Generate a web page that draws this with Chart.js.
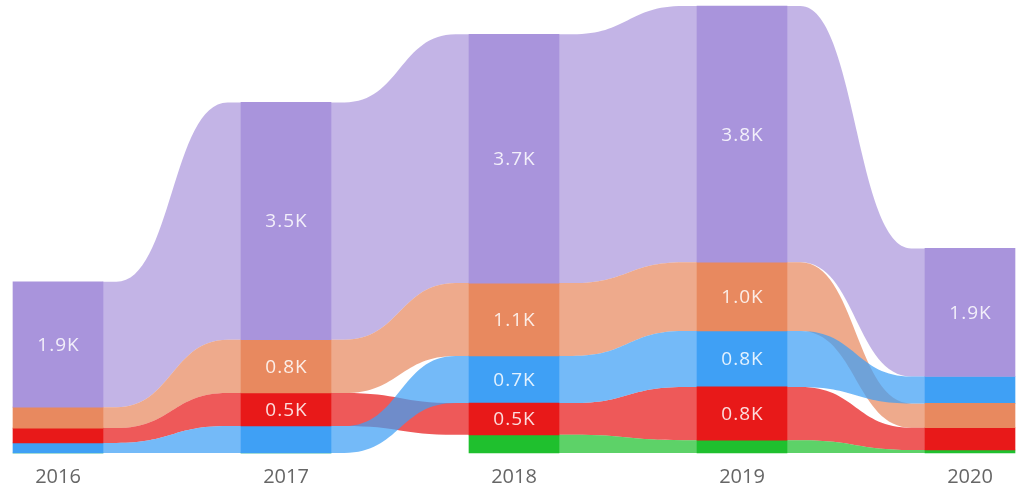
<!DOCTYPE html>
<html>
<head>
<meta charset="utf-8">
<script src="https://cdn.jsdelivr.net/npm/chart.js@4.4.1/dist/chart.umd.min.js"></script>
<style>
  html, body { margin: 0; padding: 0; background: #fff; }
  #wrap { width: 1018px; height: 494px; }
</style>
</head>
<body>
<div id="wrap"><canvas id="ribbon"></canvas></div>
<script>
  // Data
  const years = ["2016", "2017", "2018", "2019", "2020"];
  const purpleValues = [1860, 3520, 3690, 3800, 1900];
  const orangeValues = [310, 790, 1080, 1020, 360];
  const redValues = [220, 490, 470, 790, 330];
  const blueValues = [150, 400, 700, 830, 400];
  const greenValues = [0, 0, 270, 190, 45];

  const series = [
    { name: "Purple", values: purpleValues, bar: "#A994DC", ribbon: "rgba(169,148,220,0.70)" },
    { name: "Orange", values: orangeValues, bar: "#E8895F", ribbon: "rgba(232,137,95,0.72)" },
    { name: "Red", values: redValues, bar: "#E81919", ribbon: "rgba(232,25,25,0.72)" },
    { name: "Blue", values: blueValues, bar: "#3FA0F5", ribbon: "rgba(63,160,245,0.72)" },
    { name: "Green", values: greenValues, bar: "#1FC02E", ribbon: "rgba(31,192,46,0.72)" },
  ];

  // ribbon chart: each year is stacked by rank, largest on top
  series.forEach((s) => (s.ranges = []));
  years.forEach((_, i) => {
    const order = series.slice().sort((a, b) => a.values[i] - b.values[i]);
    let base = 0;
    order.forEach((s) => {
      s.ranges[i] = [base, base + s.values[i]];
      base += s.values[i];
    });
  });
  const totals = years.map((_, i) => series.reduce((sum, s) => sum + s.values[i], 0));

  // flat bit at both ends of a ribbon, then an S curve in the middle
  function edge(ctx, xa, ya, xb, yb) {
    const gap = xb - xa;
    const f = gap * 0.1;
    const p = xa + f, q = xb - f;
    const m = (p + q) / 2;
    ctx.lineTo(p, ya);
    ctx.bezierCurveTo(m, ya, m, yb, q, yb);
    ctx.lineTo(xb, yb);
  }

  const ribbonPlugin = {
    id: "ribbons",
    beforeDatasetsDraw(chart) {
      const ctx = chart.ctx;
      ctx.save();
      chart.data.datasets.forEach((ds, d) => {
        const bars = chart.getDatasetMeta(d).data;
        for (let i = 0; i < bars.length - 1; i++) {
          if (!series[d].values[i] || !series[d].values[i + 1]) continue;
          const a = bars[i], b = bars[i + 1];
          const aTop = Math.min(a.y, a.base), aBot = Math.max(a.y, a.base);
          const bTop = Math.min(b.y, b.base), bBot = Math.max(b.y, b.base);
          const x0 = a.x + a.width / 2 - 0.5;
          const x1 = b.x - b.width / 2 + 0.5;
          ctx.beginPath();
          ctx.moveTo(x0, aTop);
          edge(ctx, x0, aTop, x1, bTop);
          ctx.lineTo(x1, bBot);
          // bottom edge, going back
          const f = (x1 - x0) * 0.1;
          const p = x1 - f, q = x0 + f, m = (p + q) / 2;
          ctx.lineTo(p, bBot);
          ctx.bezierCurveTo(m, bBot, m, aBot, q, aBot);
          ctx.lineTo(x0, aBot);
          ctx.closePath();
          ctx.fillStyle = series[d].ribbon;
          ctx.fill();
        }
      });
      ctx.restore();
    },
  };

  const labelPlugin = {
    id: "barLabels",
    afterDatasetsDraw(chart) {
      const ctx = chart.ctx;
      ctx.save();
      ctx.font = '19px "Open Sans", sans-serif';
      ctx.letterSpacing = "1px";
      ctx.fillStyle = "rgba(255,255,255,0.85)";
      ctx.textAlign = "center";
      ctx.textBaseline = "middle";
      chart.data.datasets.forEach((ds, d) => {
        chart.getDatasetMeta(d).data.forEach((bar, i) => {
          const v = series[d].values[i];
          if (v < 450) return;
          const mid = (bar.y + bar.base) / 2;
          ctx.fillText((v / 1000).toFixed(1) + "K", bar.x + 0.5, mid + 1);
        });
      });
      ctx.restore();
    },
  };

  new Chart(document.getElementById("ribbon"), {
    type: "bar",
    data: {
      labels: years,
      datasets: series.map((s) => ({
        label: s.name,
        data: s.ranges,
        backgroundColor: s.bar,
        borderWidth: 0,
        barThickness: 90,
        grouped: false,
        clip: false,
      })),
    },
    options: {
      responsive: true,
      maintainAspectRatio: false,
      animation: false,
      layout: { padding: { left: 58, right: 48, top: 6, bottom: 0 } },
      plugins: {
        legend: { display: false },
        tooltip: { enabled: false },
      },
      scales: {
        x: {
          offset: false,
          grid: { display: false, drawTicks: false },
          border: { display: false },
          ticks: {
            padding: 12,
            color: "#666",
            font: { family: "'Open Sans', sans-serif", size: 20 },
          },
          afterFit(scale) {
            scale.height = 41;
          },
        },
        y: {
          display: false,
          min: 0,
          max: Math.max(...totals),
        },
      },
    },
    plugins: [ribbonPlugin, labelPlugin],
  });
</script>
</body>
</html>
